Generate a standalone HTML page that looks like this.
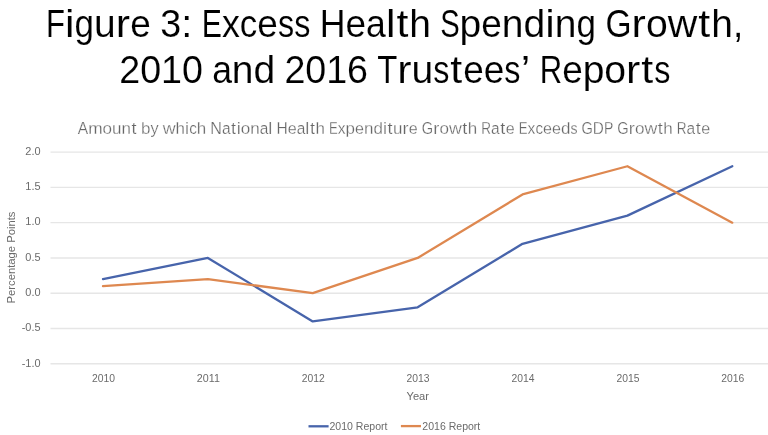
<!DOCTYPE html>
<html><head><meta charset="utf-8"><style>
html,body{margin:0;padding:0;background:#fff;width:768px;height:435px;overflow:hidden}
svg{display:block;filter:blur(0.4px)}
text{font-family:"Liberation Sans", sans-serif}
.k{fill:#000;stroke:#fff;stroke-width:0.12px}
.g{fill:#6b6b6b}
.gs{fill:#686868;stroke:#fff;stroke-width:0.25px}
</style></head><body>
<svg width="768" height="435" viewBox="0 0 768 435">
<rect width="768" height="435" fill="#fff"/>
<text transform="translate(55.51,37.1) scale(0.796,1)" x="-11.91" style="font-size:39px" class="k">F</text>
<text transform="translate(69.77,37.1) scale(1.096,1)" x="-4.33" style="font-size:39px" class="k">i</text>
<text transform="translate(84.29,37.1) scale(0.897,1)" x="-10.84" style="font-size:39px" class="k">g</text>
<text transform="translate(104.91,37.1) scale(1.000,1)" x="-10.84" style="font-size:39px" class="k">u</text>
<text transform="translate(123.00,37.1) scale(1.100,1)" x="-6.49" style="font-size:39px" class="k">r</text>
<text transform="translate(140.54,37.1) scale(0.948,1)" x="-10.84" style="font-size:39px" class="k">e</text>
<text transform="translate(170.70,37.1) scale(0.965,1)" x="-10.84" style="font-size:39px" class="k">3</text>
<text transform="translate(186.75,37.1) scale(1.021,1)" x="-5.42" style="font-size:39px" class="k">:</text>
<text transform="translate(211.76,37.1) scale(0.775,1)" x="-13.01" style="font-size:39px" class="k">E</text>
<text transform="translate(230.82,37.1) scale(0.917,1)" x="-9.75" style="font-size:39px" class="k">x</text>
<text transform="translate(248.55,37.1) scale(0.896,1)" x="-9.75" style="font-size:39px" class="k">c</text>
<text transform="translate(267.61,37.1) scale(0.948,1)" x="-10.84" style="font-size:39px" class="k">e</text>
<text transform="translate(286.02,37.1) scale(0.828,1)" x="-9.75" style="font-size:39px" class="k">s</text>
<text transform="translate(302.21,37.1) scale(0.828,1)" x="-9.75" style="font-size:39px" class="k">s</text>
<text transform="translate(332.56,37.1) scale(0.914,1)" x="-14.08" style="font-size:39px" class="k">H</text>
<text transform="translate(355.77,37.1) scale(0.948,1)" x="-10.84" style="font-size:39px" class="k">e</text>
<text transform="translate(375.99,37.1) scale(0.912,1)" x="-10.84" style="font-size:39px" class="k">a</text>
<text transform="translate(390.67,37.1) scale(1.096,1)" x="-4.33" style="font-size:39px" class="k">l</text>
<text transform="translate(402.37,37.1) scale(1.100,1)" x="-5.42" style="font-size:39px" class="k">t</text>
<text transform="translate(420.17,37.1) scale(1.000,1)" x="-10.84" style="font-size:39px" class="k">h</text>
<text transform="translate(449.90,37.1) scale(0.750,1)" x="-13.01" style="font-size:39px" class="k">S</text>
<text transform="translate(470.28,37.1) scale(1.000,1)" x="-10.84" style="font-size:39px" class="k">p</text>
<text transform="translate(491.46,37.1) scale(0.948,1)" x="-10.84" style="font-size:39px" class="k">e</text>
<text transform="translate(512.63,37.1) scale(1.000,1)" x="-10.84" style="font-size:39px" class="k">n</text>
<text transform="translate(534.37,37.1) scale(1.000,1)" x="-10.84" style="font-size:39px" class="k">d</text>
<text transform="translate(550.00,37.1) scale(1.096,1)" x="-4.33" style="font-size:39px" class="k">i</text>
<text transform="translate(565.63,37.1) scale(1.000,1)" x="-10.84" style="font-size:39px" class="k">n</text>
<text transform="translate(586.25,37.1) scale(0.897,1)" x="-10.84" style="font-size:39px" class="k">g</text>
<text transform="translate(618.43,37.1) scale(0.859,1)" x="-15.17" style="font-size:39px" class="k">G</text>
<text transform="translate(638.72,37.1) scale(1.100,1)" x="-6.49" style="font-size:39px" class="k">r</text>
<text transform="translate(656.85,37.1) scale(1.003,1)" x="-10.84" style="font-size:39px" class="k">o</text>
<text transform="translate(682.57,37.1) scale(1.048,1)" x="-14.08" style="font-size:39px" class="k">w</text>
<text transform="translate(704.30,37.1) scale(1.100,1)" x="-5.42" style="font-size:39px" class="k">t</text>
<text transform="translate(722.11,37.1) scale(1.000,1)" x="-10.84" style="font-size:39px" class="k">h</text>
<text transform="translate(738.15,37.1) scale(0.953,1)" x="-5.42" style="font-size:39px" class="k">,</text>
<text transform="translate(129.77,83.3) scale(0.965,1)" x="-10.84" style="font-size:39px" class="k">2</text>
<text transform="translate(150.64,83.3) scale(0.965,1)" x="-10.84" style="font-size:39px" class="k">0</text>
<text transform="translate(171.52,83.3) scale(0.965,1)" x="-10.84" style="font-size:39px" class="k">1</text>
<text transform="translate(192.40,83.3) scale(0.965,1)" x="-10.84" style="font-size:39px" class="k">0</text>
<text transform="translate(222.00,83.3) scale(0.912,1)" x="-10.84" style="font-size:39px" class="k">a</text>
<text transform="translate(242.67,83.3) scale(1.000,1)" x="-10.84" style="font-size:39px" class="k">n</text>
<text transform="translate(264.29,83.3) scale(1.000,1)" x="-10.84" style="font-size:39px" class="k">d</text>
<text transform="translate(294.85,83.3) scale(0.965,1)" x="-10.84" style="font-size:39px" class="k">2</text>
<text transform="translate(315.72,83.3) scale(0.965,1)" x="-10.84" style="font-size:39px" class="k">0</text>
<text transform="translate(336.60,83.3) scale(0.965,1)" x="-10.84" style="font-size:39px" class="k">1</text>
<text transform="translate(357.48,83.3) scale(0.965,1)" x="-10.84" style="font-size:39px" class="k">6</text>
<text transform="translate(387.25,83.3) scale(0.844,1)" x="-11.91" style="font-size:39px" class="k">T</text>
<text transform="translate(404.46,83.3) scale(1.100,1)" x="-6.49" style="font-size:39px" class="k">r</text>
<text transform="translate(422.45,83.3) scale(1.000,1)" x="-10.84" style="font-size:39px" class="k">u</text>
<text transform="translate(441.31,83.3) scale(0.828,1)" x="-9.75" style="font-size:39px" class="k">s</text>
<text transform="translate(456.26,83.3) scale(1.100,1)" x="-5.42" style="font-size:39px" class="k">t</text>
<text transform="translate(473.41,83.3) scale(0.948,1)" x="-10.84" style="font-size:39px" class="k">e</text>
<text transform="translate(493.92,83.3) scale(0.948,1)" x="-10.84" style="font-size:39px" class="k">e</text>
<text transform="translate(512.22,83.3) scale(0.828,1)" x="-9.75" style="font-size:39px" class="k">s</text>
<text transform="translate(525.42,83.3) scale(1.100,1)" x="-4.33" style="font-size:39px" class="k">’</text>
<text transform="translate(551.05,83.3) scale(0.796,1)" x="-14.08" style="font-size:39px" class="k">R</text>
<text transform="translate(572.48,83.3) scale(0.948,1)" x="-10.84" style="font-size:39px" class="k">e</text>
<text transform="translate(593.54,83.3) scale(1.000,1)" x="-10.84" style="font-size:39px" class="k">p</text>
<text transform="translate(615.20,83.3) scale(1.003,1)" x="-10.84" style="font-size:39px" class="k">o</text>
<text transform="translate(633.24,83.3) scale(1.100,1)" x="-6.49" style="font-size:39px" class="k">r</text>
<text transform="translate(647.32,83.3) scale(1.100,1)" x="-5.42" style="font-size:39px" class="k">t</text>
<text transform="translate(662.27,83.3) scale(0.828,1)" x="-9.75" style="font-size:39px" class="k">s</text>
<text transform="translate(82.95,133.75) scale(0.947,1)" x="-5.50" style="font-size:16.5px" class="gs">A</text>
<text transform="translate(95.36,133.75) scale(1.046,1)" x="-6.87" style="font-size:16.5px" class="gs">m</text>
<text transform="translate(107.29,133.75) scale(1.034,1)" x="-4.59" style="font-size:16.5px" class="gs">o</text>
<text transform="translate(116.76,133.75) scale(1.030,1)" x="-4.59" style="font-size:16.5px" class="gs">u</text>
<text transform="translate(126.21,133.75) scale(1.030,1)" x="-4.59" style="font-size:16.5px" class="gs">n</text>
<text transform="translate(133.95,133.75) scale(1.100,1)" x="-2.29" style="font-size:16.5px" class="gs">t</text>
<text transform="translate(145.76,133.75) scale(1.030,1)" x="-4.59" style="font-size:16.5px" class="gs">b</text>
<text transform="translate(154.56,133.75) scale(0.988,1)" x="-4.12" style="font-size:16.5px" class="gs">y</text>
<text transform="translate(169.14,133.75) scale(1.080,1)" x="-5.96" style="font-size:16.5px" class="gs">w</text>
<text transform="translate(180.30,133.75) scale(1.030,1)" x="-4.59" style="font-size:16.5px" class="gs">h</text>
<text transform="translate(187.09,133.75) scale(1.100,1)" x="-1.83" style="font-size:16.5px" class="gs">i</text>
<text transform="translate(192.97,133.75) scale(0.923,1)" x="-4.12" style="font-size:16.5px" class="gs">c</text>
<text transform="translate(201.50,133.75) scale(1.030,1)" x="-4.59" style="font-size:16.5px" class="gs">h</text>
<text transform="translate(216.11,133.75) scale(0.976,1)" x="-5.96" style="font-size:16.5px" class="gs">N</text>
<text transform="translate(226.24,133.75) scale(0.940,1)" x="-4.59" style="font-size:16.5px" class="gs">a</text>
<text transform="translate(233.56,133.75) scale(1.100,1)" x="-2.29" style="font-size:16.5px" class="gs">t</text>
<text transform="translate(238.65,133.75) scale(1.100,1)" x="-1.83" style="font-size:16.5px" class="gs">i</text>
<text transform="translate(245.46,133.75) scale(1.034,1)" x="-4.59" style="font-size:16.5px" class="gs">o</text>
<text transform="translate(254.93,133.75) scale(1.030,1)" x="-4.59" style="font-size:16.5px" class="gs">n</text>
<text transform="translate(263.97,133.75) scale(0.940,1)" x="-4.59" style="font-size:16.5px" class="gs">a</text>
<text transform="translate(270.35,133.75) scale(1.100,1)" x="-1.83" style="font-size:16.5px" class="gs">l</text>
<text transform="translate(282.09,133.75) scale(0.941,1)" x="-5.96" style="font-size:16.5px" class="gs">H</text>
<text transform="translate(292.18,133.75) scale(0.977,1)" x="-4.59" style="font-size:16.5px" class="gs">e</text>
<text transform="translate(300.97,133.75) scale(0.940,1)" x="-4.59" style="font-size:16.5px" class="gs">a</text>
<text transform="translate(307.36,133.75) scale(1.100,1)" x="-1.83" style="font-size:16.5px" class="gs">l</text>
<text transform="translate(312.44,133.75) scale(1.100,1)" x="-2.29" style="font-size:16.5px" class="gs">t</text>
<text transform="translate(320.18,133.75) scale(1.030,1)" x="-4.59" style="font-size:16.5px" class="gs">h</text>
<text transform="translate(333.37,133.75) scale(0.798,1)" x="-5.50" style="font-size:16.5px" class="gs">E</text>
<text transform="translate(341.65,133.75) scale(0.945,1)" x="-4.12" style="font-size:16.5px" class="gs">x</text>
<text transform="translate(350.28,133.75) scale(1.030,1)" x="-4.59" style="font-size:16.5px" class="gs">p</text>
<text transform="translate(359.48,133.75) scale(0.977,1)" x="-4.59" style="font-size:16.5px" class="gs">e</text>
<text transform="translate(368.69,133.75) scale(1.030,1)" x="-4.59" style="font-size:16.5px" class="gs">n</text>
<text transform="translate(378.14,133.75) scale(1.030,1)" x="-4.59" style="font-size:16.5px" class="gs">d</text>
<text transform="translate(384.94,133.75) scale(1.100,1)" x="-1.83" style="font-size:16.5px" class="gs">i</text>
<text transform="translate(390.02,133.75) scale(1.100,1)" x="-2.29" style="font-size:16.5px" class="gs">t</text>
<text transform="translate(397.76,133.75) scale(1.030,1)" x="-4.59" style="font-size:16.5px" class="gs">u</text>
<text transform="translate(405.63,133.75) scale(1.100,1)" x="-2.75" style="font-size:16.5px" class="gs">r</text>
<text transform="translate(413.25,133.75) scale(0.977,1)" x="-4.59" style="font-size:16.5px" class="gs">e</text>
<text transform="translate(427.48,133.75) scale(0.885,1)" x="-6.42" style="font-size:16.5px" class="gs">G</text>
<text transform="translate(436.30,133.75) scale(1.100,1)" x="-2.75" style="font-size:16.5px" class="gs">r</text>
<text transform="translate(444.19,133.75) scale(1.034,1)" x="-4.59" style="font-size:16.5px" class="gs">o</text>
<text transform="translate(455.36,133.75) scale(1.080,1)" x="-5.96" style="font-size:16.5px" class="gs">w</text>
<text transform="translate(464.81,133.75) scale(1.100,1)" x="-2.29" style="font-size:16.5px" class="gs">t</text>
<text transform="translate(472.55,133.75) scale(1.030,1)" x="-4.59" style="font-size:16.5px" class="gs">h</text>
<text transform="translate(486.23,133.75) scale(0.820,1)" x="-5.96" style="font-size:16.5px" class="gs">R</text>
<text transform="translate(495.43,133.75) scale(0.940,1)" x="-4.59" style="font-size:16.5px" class="gs">a</text>
<text transform="translate(502.76,133.75) scale(1.100,1)" x="-2.29" style="font-size:16.5px" class="gs">t</text>
<text transform="translate(510.26,133.75) scale(0.977,1)" x="-4.59" style="font-size:16.5px" class="gs">e</text>
<text transform="translate(523.20,133.75) scale(0.798,1)" x="-5.50" style="font-size:16.5px" class="gs">E</text>
<text transform="translate(531.49,133.75) scale(0.945,1)" x="-4.12" style="font-size:16.5px" class="gs">x</text>
<text transform="translate(539.19,133.75) scale(0.923,1)" x="-4.12" style="font-size:16.5px" class="gs">c</text>
<text transform="translate(547.48,133.75) scale(0.977,1)" x="-4.59" style="font-size:16.5px" class="gs">e</text>
<text transform="translate(556.44,133.75) scale(0.977,1)" x="-4.59" style="font-size:16.5px" class="gs">e</text>
<text transform="translate(565.65,133.75) scale(1.030,1)" x="-4.59" style="font-size:16.5px" class="gs">d</text>
<text transform="translate(573.90,133.75) scale(0.853,1)" x="-4.12" style="font-size:16.5px" class="gs">s</text>
<text transform="translate(587.16,133.75) scale(0.885,1)" x="-6.42" style="font-size:16.5px" class="gs">G</text>
<text transform="translate(598.38,133.75) scale(0.929,1)" x="-5.96" style="font-size:16.5px" class="gs">D</text>
<text transform="translate(608.56,133.75) scale(0.846,1)" x="-5.50" style="font-size:16.5px" class="gs">P</text>
<text transform="translate(622.96,133.75) scale(0.885,1)" x="-6.42" style="font-size:16.5px" class="gs">G</text>
<text transform="translate(631.78,133.75) scale(1.100,1)" x="-2.75" style="font-size:16.5px" class="gs">r</text>
<text transform="translate(639.67,133.75) scale(1.034,1)" x="-4.59" style="font-size:16.5px" class="gs">o</text>
<text transform="translate(650.85,133.75) scale(1.080,1)" x="-5.96" style="font-size:16.5px" class="gs">w</text>
<text transform="translate(660.30,133.75) scale(1.100,1)" x="-2.29" style="font-size:16.5px" class="gs">t</text>
<text transform="translate(668.04,133.75) scale(1.030,1)" x="-4.59" style="font-size:16.5px" class="gs">h</text>
<text transform="translate(681.72,133.75) scale(0.820,1)" x="-5.96" style="font-size:16.5px" class="gs">R</text>
<text transform="translate(690.92,133.75) scale(0.940,1)" x="-4.59" style="font-size:16.5px" class="gs">a</text>
<text transform="translate(698.24,133.75) scale(1.100,1)" x="-2.29" style="font-size:16.5px" class="gs">t</text>
<text transform="translate(705.74,133.75) scale(0.977,1)" x="-4.59" style="font-size:16.5px" class="gs">e</text>
<line x1="50.5" y1="152.14" x2="768" y2="152.14" stroke="#e6e6e6" stroke-width="1.4"/>
<line x1="50.5" y1="187.40" x2="768" y2="187.40" stroke="#e6e6e6" stroke-width="1.4"/>
<line x1="50.5" y1="222.67" x2="768" y2="222.67" stroke="#e6e6e6" stroke-width="1.4"/>
<line x1="50.5" y1="257.94" x2="768" y2="257.94" stroke="#e6e6e6" stroke-width="1.4"/>
<line x1="50.5" y1="293.20" x2="768" y2="293.20" stroke="#e6e6e6" stroke-width="1.4"/>
<line x1="50.5" y1="328.46" x2="768" y2="328.46" stroke="#e6e6e6" stroke-width="1.4"/>
<line x1="50.5" y1="363.73" x2="768" y2="363.73" stroke="#e6e6e6" stroke-width="1.4"/>
<text x="40.5" y="154.94" text-anchor="end" style="font-size:10px" textLength="15.2" lengthAdjust="spacingAndGlyphs" class="g">2.0</text>
<text x="40.5" y="190.20" text-anchor="end" style="font-size:10px" textLength="15.2" lengthAdjust="spacingAndGlyphs" class="g">1.5</text>
<text x="40.5" y="225.47" text-anchor="end" style="font-size:10px" textLength="15.2" lengthAdjust="spacingAndGlyphs" class="g">1.0</text>
<text x="40.5" y="260.74" text-anchor="end" style="font-size:10px" textLength="15.2" lengthAdjust="spacingAndGlyphs" class="g">0.5</text>
<text x="40.5" y="296.00" text-anchor="end" style="font-size:10px" textLength="15.2" lengthAdjust="spacingAndGlyphs" class="g">0.0</text>
<text x="40.5" y="331.26" text-anchor="end" style="font-size:10px" textLength="18.8" lengthAdjust="spacingAndGlyphs" class="g">-0.5</text>
<text x="40.5" y="366.53" text-anchor="end" style="font-size:10px" textLength="18.8" lengthAdjust="spacingAndGlyphs" class="g">-1.0</text>
<text x="103.50" y="382" text-anchor="middle" style="font-size:10px" textLength="23" lengthAdjust="spacingAndGlyphs" class="g">2010</text>
<text x="208.38" y="382" text-anchor="middle" style="font-size:10px" textLength="23" lengthAdjust="spacingAndGlyphs" class="g">2011</text>
<text x="313.26" y="382" text-anchor="middle" style="font-size:10px" textLength="23" lengthAdjust="spacingAndGlyphs" class="g">2012</text>
<text x="418.14" y="382" text-anchor="middle" style="font-size:10px" textLength="23" lengthAdjust="spacingAndGlyphs" class="g">2013</text>
<text x="523.02" y="382" text-anchor="middle" style="font-size:10px" textLength="23" lengthAdjust="spacingAndGlyphs" class="g">2014</text>
<text x="627.90" y="382" text-anchor="middle" style="font-size:10px" textLength="23" lengthAdjust="spacingAndGlyphs" class="g">2015</text>
<text x="732.78" y="382" text-anchor="middle" style="font-size:10px" textLength="23" lengthAdjust="spacingAndGlyphs" class="g">2016</text>
<polyline points="103.00,279.09 207.88,257.94 312.76,321.41 417.64,307.31 522.52,243.83 627.40,215.62 732.28,166.25" fill="none" stroke="#4764ab" stroke-width="2.3" stroke-linejoin="round" stroke-linecap="round"/>
<polyline points="103.00,286.15 207.88,279.09 312.76,293.20 417.64,257.94 522.52,194.46 627.40,166.25 732.28,222.67" fill="none" stroke="#de8850" stroke-width="2.3" stroke-linejoin="round" stroke-linecap="round"/>
<text x="406.5" y="400.1" style="font-size:11px" textLength="22.5" lengthAdjust="spacingAndGlyphs" class="g">Year</text>
<text transform="translate(15.2,303.5) rotate(-90)" style="font-size:11px" textLength="92" lengthAdjust="spacingAndGlyphs" class="g">Percentage Points</text>
<line x1="308.5" y1="426.3" x2="328.6" y2="426.3" stroke="#4764ab" stroke-width="2.3"/>
<text x="329.5" y="429.6" style="font-size:10.5px" textLength="58" lengthAdjust="spacingAndGlyphs" class="g">2010 Report</text>
<line x1="400.9" y1="426.1" x2="421" y2="426.1" stroke="#de8850" stroke-width="2.3"/>
<text x="422.3" y="429.6" style="font-size:10.5px" textLength="58" lengthAdjust="spacingAndGlyphs" class="g">2016 Report</text>
</svg>
</body></html>
